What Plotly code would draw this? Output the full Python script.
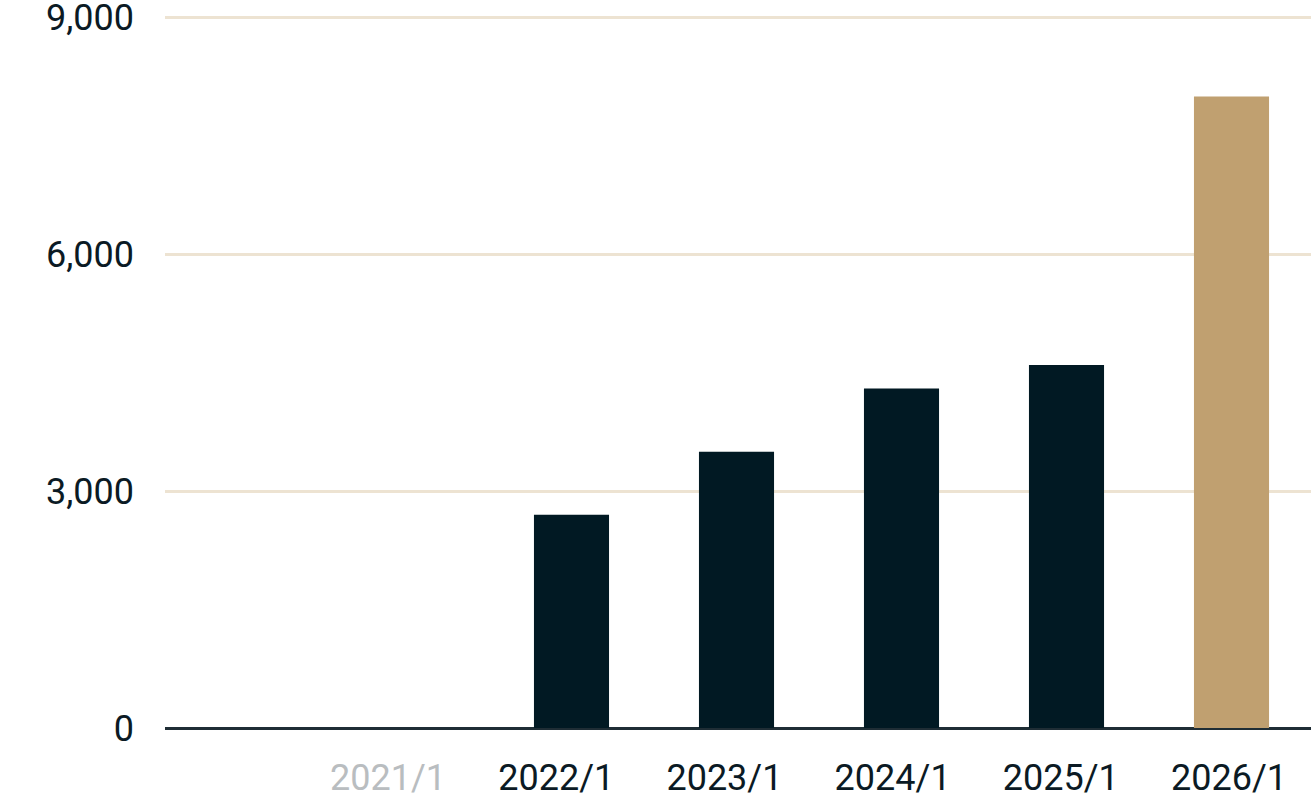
import plotly.graph_objects as go

categories = ["2021/1", "2022/1", "2023/1", "2024/1", "2025/1", "2026/1"]
values = [None, 2700, 3500, 4300, 4600, 8000]
bar_colors = ["#011923", "#011923", "#011923", "#011923", "#011923", "#c0a070"]
label_colors = ["#b9bdc0", "#0b1a24", "#0b1a24", "#0b1a24", "#0b1a24", "#0b1a24"]
y_ticks = [0, 3000, 6000, 9000]

idx = list(range(len(categories)))
# tick labels sit on a slightly wider spacing than the bars
label_pos = [-0.112 + 1.0194 * i for i in idx]
tick_text = [f'<span style="color:{c}">{t}</span>' for t, c in zip(categories, label_colors)]

fig = go.Figure(
    go.Bar(
        x=idx,
        y=values,
        width=0.455,
        marker=dict(color=bar_colors, line=dict(width=0)),
        hoverinfo="skip",
    )
)

fig.update_layout(
    width=1311,
    height=801,
    margin=dict(l=165, r=0, t=16, b=73, autoexpand=False),
    paper_bgcolor="white",
    plot_bgcolor="white",
    showlegend=False,
    font=dict(family="Roboto", size=36, color="#0b1a24"),
    xaxis=dict(
        range=[-1.4636, 5.4818],
        tickmode="array",
        tickvals=label_pos,
        ticktext=tick_text,
        showgrid=False,
        zeroline=False,
        showline=False,
        ticks="",
        ticklabelstandoff=25,
        ticklabeloverflow="allow",
        tickfont=dict(family="Roboto", size=36, color="#0b1a24"),
        fixedrange=True,
    ),
    yaxis=dict(
        range=[0, 9020],
        tickmode="array",
        tickvals=y_ticks,
        tickformat=",",
        showgrid=True,
        gridcolor="#ede3d2",
        gridwidth=3,
        zeroline=True,
        zerolinecolor="#1f2d35",
        zerolinewidth=2.5,
        showline=False,
        ticks="",
        ticklabelstandoff=30,
        ticklabeloverflow="allow",
        tickfont=dict(family="Roboto", size=36, color="#0b1a24"),
        fixedrange=True,
    ),
)

fig.write_html(
    "out.html",
    config={"displayModeBar": False},
    post_script="document.body.style.margin='0';document.body.style.padding='0';",
)
